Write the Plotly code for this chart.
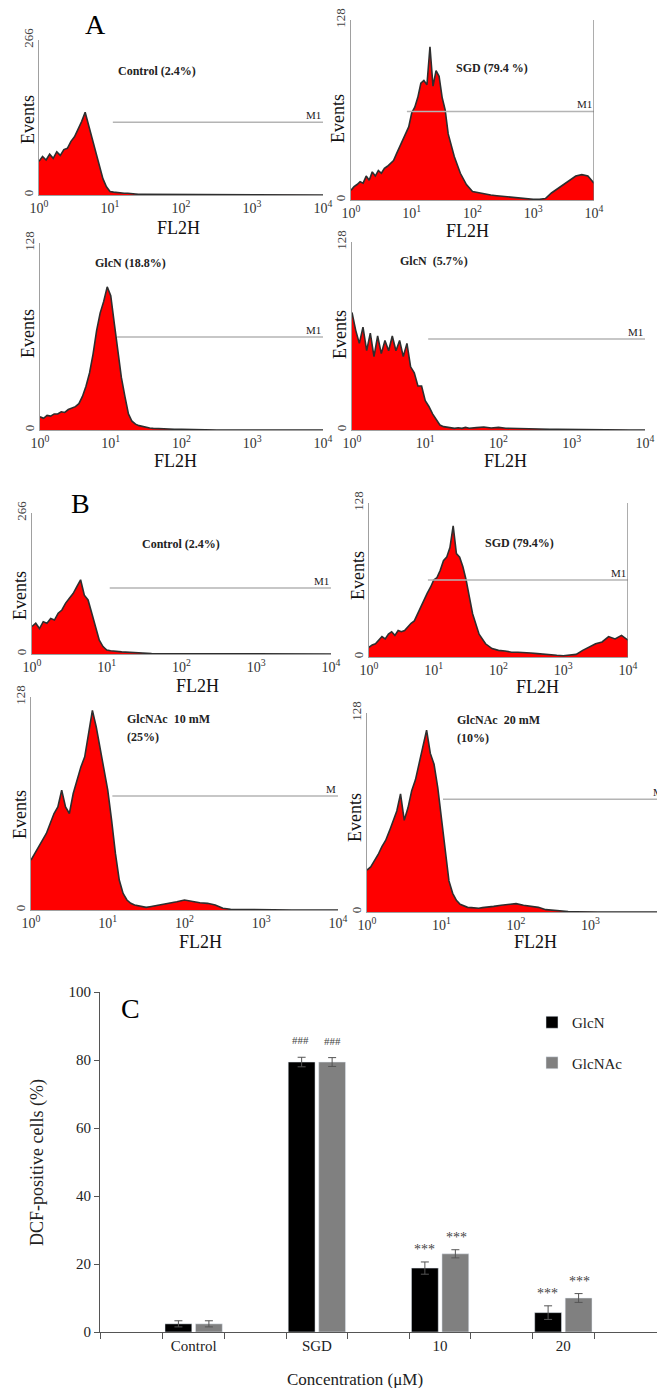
import plotly.graph_objects as go

W, H = 665, 1388
OFF = 8  # the page body margin that shifts the figure
SERIF = "Liberation Serif, Times New Roman, serif"

# ---- flow cytometry histograms (x in log10 FL2H, y in events) ----
fl2h_log = [0.0, 0.05, 0.1, 0.15, 0.2, 0.25, 0.3, 0.35, 0.4, 0.45, 0.5, 0.55, 0.6, 0.65,
            0.7, 0.75, 0.8, 0.85, 0.9, 0.95, 1.0, 1.05, 1.1, 1.15, 1.2, 1.25, 1.3, 1.35,
            1.4, 1.45, 1.5, 1.55, 1.6, 1.7, 1.8, 1.9, 2.0, 2.1, 2.2, 2.3, 2.4, 2.5, 2.6,
            2.7, 2.8, 2.9, 3.0, 3.1, 3.2, 3.3, 3.4, 3.5, 3.6, 3.7, 3.8, 3.9, 4.0]

control_a = [58, 66, 60, 70, 63, 74, 68, 78,
             80, 92, 100, 112, 126, 142, 120, 96,
             74, 50, 28, 14, 6, 5, 4, 4,
             3, 3, 2, 2, 1, 1, 1, 0.5, 0.5,
             0.5, 0.3, 0.3, 0.2, 0.2, 0.1, 0, 0, 0, 0, 0, 0,
             0, 0, 0, 0, 0, 0, 0, 0, 0, 0, 0, 0]
sgd_a = [7, 9.5, 11, 13, 12, 17, 14, 20,
         17, 21, 19, 22.5, 24, 26, 28, 33,
         38, 43, 47, 52, 62, 66, 73, 83,
         85, 82, 109, 81, 92, 88, 73, 64, 47,
         31, 19, 11, 6, 5, 4, 3.5, 3, 2.5, 2, 2, 1.5,
         1, 0.5, 0.5, 1, 5, 8, 11, 14, 17, 18, 17, 12]
glcn_188 = [9, 8, 10, 9.5, 11, 11, 12.5, 12,
            14, 15, 16, 18, 23, 30, 39, 52,
            68, 80, 88, 98, 92, 73, 55, 36,
            23, 11, 6, 4, 3, 2.3, 1.8, 1.4, 1.1,
            0.8, 0.6, 0.5, 0.5, 0.3, 0.2, 0, 0, 0, 0, 0, 0,
            0, 0, 0, 0, 0, 0, 0, 0, 0, 0, 0, 0]
glcn_57 = [80, 68, 59, 70, 54, 66, 50, 64,
           52, 61, 54, 64, 54, 61, 50, 59,
           43, 39, 30, 30, 20, 16, 11, 7,
           3.4, 2.3, 1.8, 1.6, 1.1, 1.5, 1.1, 1.8, 1.2,
           1.6, 2, 1.4, 1.8, 1.2, 1, 0.8, 0.8, 0.6, 0.6, 0.5, 0.5,
           0.4, 0.4, 0.3, 0.3, 0.2, 0.2, 0.1, 0, 0, 0, 0, 0]
control_b = [52, 58, 48, 61, 58, 67, 64, 77,
             83, 96, 105, 114, 127, 140, 111, 102,
             77, 52, 26, 14, 7.5, 6, 5, 4,
             4, 3.5, 3, 2, 1.5, 1, 1, 0.8, 0.8,
             0.5, 0.5, 0.3, 0.3, 0.2, 0, 0, 0, 0, 0, 0, 0,
             0, 0, 0, 0, 0, 0, 0, 0, 0, 0, 0, 0]
sgd_b = [8, 10, 11, 14, 17, 15, 19, 21,
         18, 22, 21, 22, 25, 28, 30, 36,
         42, 47, 53, 58, 64, 66, 72, 80,
         83, 91, 109, 86, 83, 75, 64, 50, 36,
         19, 11, 7, 5.5, 5, 4, 3.9, 3.3, 3.3, 2.8, 2.2, 1.7,
         1.4, 1.1, 1.4, 2.2, 5.5, 8, 11, 12.5, 17, 15, 18, 14]
glcnac_10 = [30, 34, 38, 42, 46, 52, 58, 62,
             72, 62, 58, 70, 78, 86, 92, 106,
             120, 110, 98, 84, 72, 54, 34, 18,
             10, 6, 4, 3, 2.4, 2, 1.6, 2, 2.4,
             3, 4, 5, 6, 5, 4.4, 4, 3, 1, 0.4, 0.3, 0.2,
             0.1, 0, 0, 0, 0, 0, 0, 0, 0, 0, 0, 0]
glcnac_20 = [27, 29, 33, 37, 42, 46, 52, 59,
             65, 76, 59, 67, 78, 85, 95, 106,
             117, 102, 95, 80, 59, 37, 20, 12,
             7.5, 5, 4, 3, 2.8, 2.6, 2.4, 2.8, 3,
             3.6, 4.3, 5, 5.4, 4.3, 3.6, 3, 1.5, 1, 0.5, 0.3, 0.2,
             0, 0, 0, 0, 0, 0, 0, 0, 0, 0, 0, 0]

hist_series = [control_a, sgd_a, glcn_188, glcn_57, control_b, sgd_b, glcnac_10, glcnac_20]
hist_labels = [["Control (2.4%)"], ["SGD (79.4 %)"], ["GlcN (18.8%)"], ["GlcN  (5.7%)"],
               ["Control (2.4%)"], ["SGD (79.4%)"], ["GlcNAc  10 mM", "(25%)"],
               ["GlcNAc  20 mM", "(10%)"]]
events_max = [266, 128, 128, 128, 266, 128, 128, 128]
gate_start = [1.04, 0.92, 1.09, 1.04, 1.04, 0.91, 1.06, 1.02]
gate_level = [125, 63, 63.6, 62, 124.5, 64, 68.5, 72.6]
gate_names = ["M1", "M1", "M1", "M1", "M1", "M1", "M", "M"]
decade_ticks = [0, 1, 2, 3, 4]
decade_text = ["10<sup>0</sup>", "10<sup>1</sup>", "10<sup>2</sup>", "10<sup>3</sup>", "10<sup>4</sup>"]

# ---- bar chart (panel C) ----
categories = ["Control", "SGD", "10", "20"]
glcn_pct = [2.4, 79.4, 18.8, 5.7]
glcn_sd = [0.9, 1.4, 1.8, 2.0]
glcnac_pct = [2.4, 79.4, 23.0, 10.0]
glcnac_sd = [0.9, 1.3, 1.2, 1.3]
glcn_marks = ["", "###", "***", "***"]
glcnac_marks = ["", "###", "***", "***"]
y_ticks = [0, 20, 40, 60, 80, 100]

# ---- pixel layout of the panels (page pixels) ----
panels = [
    dict(l=39, r=323, t=40, b=195, ev=(28, 120), fl=(178, 228), lab=(157, 71), anchor="center", border=False),
    dict(l=351, r=594, t=20, b=200, ev=(338, 119), fl=(467, 231), lab=(492, 68), anchor="center", border=True),
    dict(l=40, r=323, t=243, b=430, ev=(28, 334), fl=(175, 461), lab=(130, 263), anchor="center", border=False),
    dict(l=352, r=645, t=242, b=430, ev=(340, 335), fl=(505, 461), lab=(434, 261), anchor="center", border=False),
    dict(l=32, r=331, t=513, b=654, ev=(20, 596), fl=(197, 686), lab=(181, 544), anchor="center", border=False),
    dict(l=369, r=628, t=503, b=657, ev=(358, 576), fl=(537, 687), lab=(519, 543), anchor="center", border=True),
    dict(l=31, r=338, t=697, b=910, ev=(20, 815), fl=(200, 942), lab=(125, 719), anchor="left", border=False),
    dict(l=367, r=665, t=713, b=912, ev=(355, 818), fl=(535, 942), lab=(455, 720), anchor="left", border=False),
]

FW, FH = W - OFF, H - OFF


def px_x(x):
    return min(max((x - OFF) / FW, 0), 1)


def px_y(y):
    return min(max(1 - (y - OFF) / FH, 0), 1)


def note(text, x, y, size, xanchor="center", angle=0, color="#111"):
    return dict(xref="paper", yref="paper", x=px_x(x), y=px_y(y), text=text,
                xanchor=xanchor, yanchor="middle", textangle=angle, showarrow=False,
                font=dict(family=SERIF, size=size, color=color))


fig = go.Figure()
annotations = []
shapes = []
layout_axes = {}

for i, (vals, p) in enumerate(zip(hist_series, panels), start=1):
    xa, ya = f"x{i}", f"y{i}"
    fig.add_trace(go.Scatter(
        x=fl2h_log, y=vals, xaxis=xa, yaxis=ya, mode="lines",
        line=dict(color="#2e2e2e", width=1.6), fill="tozeroy", fillcolor="#ff0000",
        showlegend=False, hoverinfo="skip",
    ))
    layout_axes[f"xaxis{i}"] = dict(
        domain=[px_x(p["l"]), px_x(p["r"])], anchor=ya, range=[0, 4],
        tickvals=decade_ticks, ticktext=decade_text, ticks="", showgrid=False, zeroline=False,
        showline=True, linecolor="#a0a0a0", linewidth=1, automargin=False,
        tickfont=dict(family=SERIF, size=14, color="#333"),
    )
    layout_axes[f"yaxis{i}"] = dict(
        domain=[px_y(p["b"]), px_y(p["t"])], anchor=xa, range=[0, events_max[i - 1]],
        tickvals=[0, events_max[i - 1]], ticktext=["0", str(events_max[i - 1])], tickangle=-90,
        ticks="", showgrid=False, zeroline=False, showline=True, linecolor="#a0a0a0", linewidth=1,
        automargin=False, tickfont=dict(family=SERIF, size=13, color="#444"),
    )
    # M1 gate
    shapes.append(dict(type="line", xref=xa, yref=ya, x0=gate_start[i - 1], x1=4,
                       y0=gate_level[i - 1], y1=gate_level[i - 1],
                       line=dict(color="#b4b4b4", width=1.5)))
    annotations.append(dict(xref=xa, yref=ya, x=4, y=gate_level[i - 1], text=gate_names[i - 1],
                            xanchor="right", yanchor="bottom", showarrow=False, yshift=-1,
                            font=dict(family=SERIF, size=11, color="#222")))
    if p["border"]:
        shapes.append(dict(type="line", xref=xa, yref=f"{ya} domain", x0=4, x1=4, y0=0, y1=1,
                           line=dict(color="#777", width=1.2)))
    annotations.append(note("Events", p["ev"][0], p["ev"][1], 18, angle=-90))
    annotations.append(note("FL2H", p["fl"][0], p["fl"][1], 18))
    for k, line in enumerate(hist_labels[i - 1]):
        annotations.append(note(f"<b>{line}</b>", p["lab"][0], p["lab"][1] + 18 * k, 12,
                                xanchor=p["anchor"], color="#222"))

# panel letters
for letter, (lx, ly) in zip(["A", "B", "C"], [(95, 25), (80, 503), (130, 1008)]):
    annotations.append(note(letter, lx, ly, 28, color="#000"))

# ---- panel C ----
xpos = list(range(len(categories)))
fig.add_trace(go.Bar(
    x=xpos, y=glcn_pct, name="GlcN", xaxis="x9", yaxis="y9", marker_color="#000000",
    error_y=dict(type="data", array=glcn_sd, color="#555", thickness=1, width=4),
    legendgroup="a",
))
fig.add_trace(go.Bar(
    x=xpos, y=glcnac_pct, name="GlcNAc", xaxis="x9", yaxis="y9", marker_color="#808080",
    error_y=dict(type="data", array=glcnac_sd, color="#555", thickness=1, width=4),
    legendgroup="b",
))

offsets = [-0.13, 0.13]
for vals, errs, marks, off in [(glcn_pct, glcn_sd, glcn_marks, offsets[0]),
                               (glcnac_pct, glcnac_sd, glcnac_marks, offsets[1])]:
    for xi, v, e, m in zip(xpos, vals, errs, marks):
        if not m:
            continue
        annotations.append(dict(xref="x9", yref="y9", x=xi + off, y=v + e, text=m,
                                xanchor="center", yanchor="bottom", showarrow=False,
                                yshift=9 if m == "###" else 3,
                                font=dict(family=SERIF, size=11 if m == "###" else 14, color="#444")))

edge_ticks = [-0.76] + [c + d for c in xpos for d in (-0.25, 0.25)] + [3.76]
layout_axes["xaxis9"] = dict(
    domain=[px_x(100), px_x(657)], anchor="y9", range=[-0.76, 3.76],
    tickvals=xpos, ticktext=categories, ticks="", showgrid=False, zeroline=False,
    showline=True, linecolor="#555", linewidth=1, automargin=False,
    tickfont=dict(family=SERIF, size=15, color="#222"),
    minor=dict(tickvals=edge_ticks, ticks="outside", ticklen=6, tickcolor="#555", tickwidth=1),
)
layout_axes["yaxis9"] = dict(
    domain=[px_y(1332), px_y(992)], anchor="x9", range=[0, 100],
    tickvals=y_ticks, ticks="outside", ticklen=5, tickcolor="#555", showgrid=False,
    zeroline=False, showline=True, linecolor="#555", linewidth=1, automargin=False,
    tickfont=dict(family=SERIF, size=15, color="#222"),
)
annotations.append(note("DCF-positive cells (%)", 37, 1163, 18, angle=-90, color="#222"))
annotations.append(note("Concentration (μM)", 355, 1379, 17, color="#222"))

fig.update_layout(
    width=FW, height=FH, margin=dict(l=0, r=0, t=0, b=0, autoexpand=False),
    paper_bgcolor="white", plot_bgcolor="white",
    barmode="group", bargap=0.505, bargroupgap=0.12,
    showlegend=True,
    legend=dict(x=px_x(532), y=px_y(1006), xanchor="left", yanchor="top",
                font=dict(family=SERIF, size=15, color="#222"), tracegroupgap=18,
                bgcolor="rgba(0,0,0,0)", itemwidth=30),
    annotations=annotations, shapes=shapes,
    **layout_axes,
)

fig.write_html("out.html")
